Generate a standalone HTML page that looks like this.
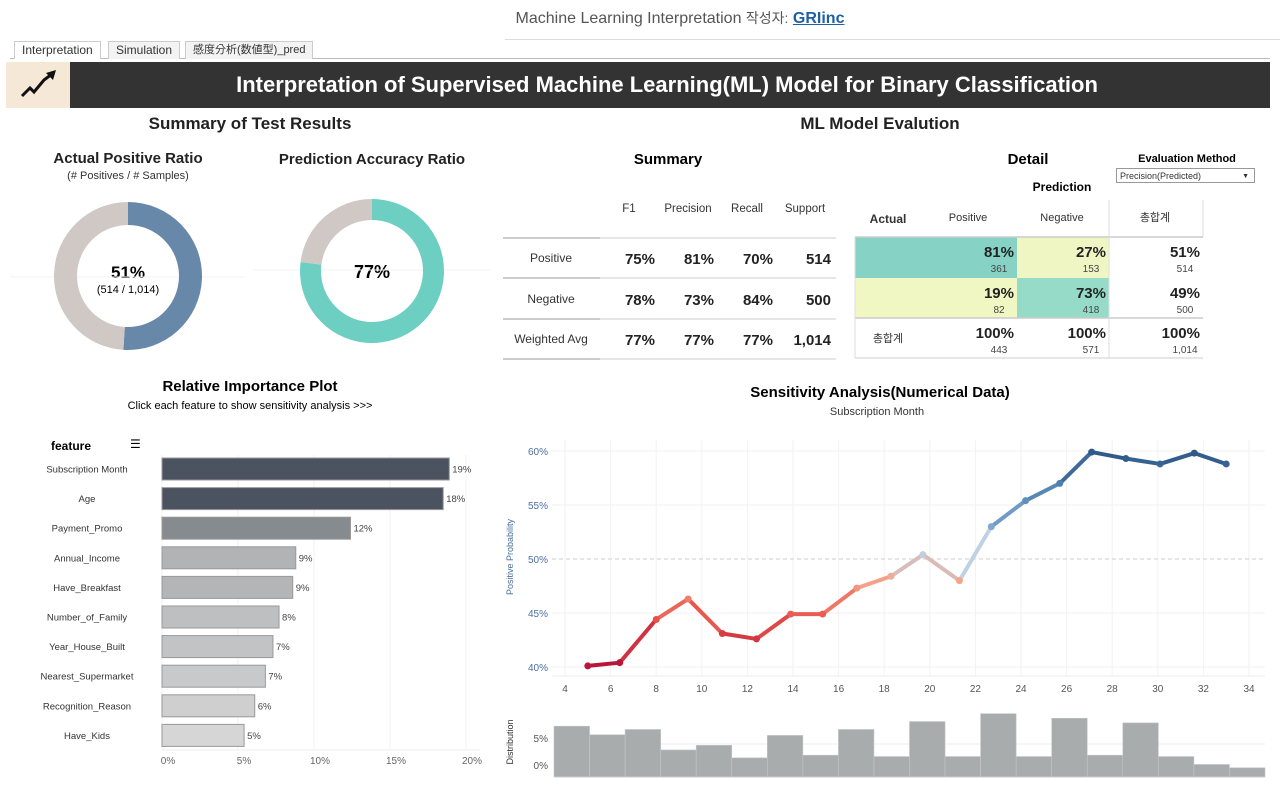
<!DOCTYPE html>
<html><head><meta charset="utf-8">
<style>
body{margin:0;width:1280px;height:788px;background:#fff;overflow:hidden;font-family:"Liberation Sans","Noto Sans CJK KR",sans-serif;position:relative}
.a{position:absolute;white-space:nowrap}
.c{transform:translateX(-50%)}
.r{transform:translateX(-100%)}
.b{font-weight:bold}
.tab{position:absolute;top:41px;height:17px;font-size:12px;line-height:17px;color:#333;border:1px solid #ccc;border-bottom:none;background:#f3f3f3;padding:0 7px}
svg{position:absolute;left:0;top:0}
</style></head><body>
<div class="a c" style="left:680px;top:8px;font-size:16px;color:#555">Machine Learning Interpretation <span style="font-size:14px">작성자:</span> <span style="color:#1f5fa6;text-decoration:underline;font-weight:bold">GRIinc</span></div>
<div class="a" style="left:505px;top:39px;width:775px;height:1px;background:#ddd"></div>
<div class="a" style="left:10px;top:58px;width:1260px;height:1px;background:#bbb"></div>
<div class="tab" style="left:14px;background:#fff">Interpretation</div>
<div class="tab" style="left:108px">Simulation</div>
<div class="tab" style="left:185px;font-size:11px">感度分析(数値型)_pred</div>
<div class="a" style="left:6px;top:62px;width:64px;height:46px;background:#f5e8d6">
<svg width="64" height="46"><polyline points="16,34 24,26 28,30 38,18 46,12" fill="none" stroke="#111" stroke-width="3"/><polygon points="50,8 40,11 47,18" fill="#111"/></svg></div>
<div class="a" style="left:70px;top:62px;width:1200px;height:46px;background:#333"></div>
<div class="a c b" style="left:667px;top:72px;font-size:22px;color:#fff">Interpretation of Supervised Machine Learning(ML) Model for Binary Classification</div>

<div class="a c b" style="left:250px;top:114px;font-size:17px;color:#222">Summary of Test Results</div>
<div class="a c b" style="left:880px;top:114px;font-size:17px;color:#222">ML Model Evalution</div>
<div class="a c b" style="left:128px;top:150px;font-size:15px;color:#222">Actual Positive Ratio</div>
<div class="a c" style="left:128px;top:170px;font-size:11px;color:#333">(# Positives / # Samples)</div>
<div class="a c b" style="left:372px;top:151px;font-size:15px;color:#222">Prediction Accuracy Ratio</div>
<div class="a c b" style="left:128px;top:263px;font-size:17px">51%</div>
<div class="a c" style="left:128px;top:284px;font-size:11px">(514 / 1,014)</div>
<div class="a c b" style="left:372px;top:262px;font-size:18px">77%</div>

<div class="a c b" style="left:668px;top:151px;font-size:15px">Summary</div>
<div class="a c b" style="left:1028px;top:151px;font-size:15px">Detail</div>
<div class="a c b" style="left:1187px;top:153px;font-size:11px">Evaluation Method</div>
<div class="a" style="left:1116px;top:168px;width:139px;height:15px;border:1px solid #999;font-size:9px;line-height:15px;color:#333;padding-left:3px;box-sizing:border-box">Precision(Predicted)<span style="position:absolute;right:5px;font-size:7px">▼</span></div>
<div class="a c b" style="left:1062px;top:180px;font-size:12px">Prediction</div>

<div class="a c b" style="left:250px;top:378px;font-size:15px">Relative Importance Plot</div>
<div class="a c" style="left:250px;top:400px;font-size:11px">Click each feature to show sensitivity analysis &gt;&gt;&gt;</div>
<div class="a b" style="left:51px;top:439px;font-size:12px">feature</div>
<div class="a" style="left:130px;top:437px;font-size:12px">☰</div>
<div class="a c b" style="left:880px;top:384px;font-size:15px">Sensitivity Analysis(Numerical Data)</div>
<div class="a c" style="left:877px;top:406px;font-size:11px;color:#333">Subscription Month</div>

<svg id="chart" width="1280" height="788"></svg>
<script>
// ===== data =====
const donutValues=[51,77];
const features=["Subscription Month","Age","Payment_Promo","Annual_Income","Have_Breakfast","Number_of_Family","Year_House_Built","Nearest_Supermarket","Recognition_Reason","Have_Kids"];
const importance=[18.9,18.5,12.4,8.8,8.6,7.7,7.3,6.8,6.1,5.4];
const importanceLabels=["19%","18%","12%","9%","9%","8%","7%","7%","6%","5%"];
const impTicks=[0,5,10,15,20];
const months=[5.0,6.4,8.0,9.4,10.9,12.4,13.9,15.3,16.8,18.3,19.7,21.3,22.7,24.2,25.7,27.1,28.6,30.1,31.6,33.0];
const probs=[40.1,40.4,44.4,46.3,43.1,42.6,44.9,44.9,47.3,48.4,50.4,48.0,53.0,55.4,57.0,59.9,59.3,58.8,59.8,58.8];
const xTicks=[4,6,8,10,12,14,16,18,20,22,24,26,28,30,32,34];
const yTicks=[40,45,50,55,60];
const distribution=[7.7,6.4,7.2,4.1,4.8,2.9,6.3,3.3,7.2,3.1,8.4,3.1,9.6,3.1,8.9,3.3,8.2,3.1,1.9,1.4];
const sumRows=["Positive","Negative","Weighted Avg"];
const sumCols=["F1","Precision","Recall","Support"];
const sumVals=[["75%","81%","70%","514"],["78%","73%","84%","500"],["77%","77%","77%","1,014"]];
const detRows=["Positive","Negative","총합계"];
const detCols=["Positive","Negative","총합계"];
const detPct=[["81%","27%","51%"],["19%","73%","49%"],["100%","100%","100%"]];
const detCnt=[["361","153","514"],["82","418","500"],["443","571","1,014"]];

const svg=document.getElementById('chart');const NS='http://www.w3.org/2000/svg';
function mk(t,a,p){const e=document.createElementNS(NS,t);for(const k in a)e.setAttribute(k,a[k]);(p||svg).appendChild(e);return e;}
function txt(x,y,s,a){const e=mk('text',Object.assign({x:x,y:y,'font-family':'Liberation Sans, sans-serif'},a));e.textContent=s;return e;}

function arc(cx,cy,R,r,a0,a1,fill,name){
 const p=(a,rr)=>[cx+rr*Math.sin(a),cy-rr*Math.cos(a)];
 const big=(a1-a0)>Math.PI?1:0;const [x1,y1]=p(a0,R),[x2,y2]=p(a1,R),[x3,y3]=p(a1,r),[x4,y4]=p(a0,r);
 const e=mk('path',{d:`M${x1},${y1}A${R},${R} 0 ${big} 1 ${x2},${y2}L${x3},${y3}A${r},${r} 0 ${big} 0 ${x4},${y4}Z`,fill:fill});
 
 
}
mk('line',{x1:10,y1:277,x2:245,y2:277,stroke:'#f3f3f3'});
mk('line',{x1:253,y1:270,x2:490,y2:270,stroke:'#f3f3f3'});
const dn=[{cx:128,cy:276,R:74,r:51,col:'#6888a9'},{cx:372,cy:271,R:72,r:51,col:'#6dcfc2'}];
donutValues.forEach((v,i)=>{const d=dn[i],a=v/100*2*Math.PI;
 arc(d.cx,d.cy,d.R,d.r,0,a,d.col,'donut-value-'+i);arc(d.cx,d.cy,d.R,d.r,a,2*Math.PI-0.0001,'#cfc8c4','donut-rest-'+i);});

const ix=v=>162+v*15.2;
impTicks.forEach(t=>{mk('line',{x1:ix(t),y1:455,x2:ix(t),y2:750,stroke:'#f0f0f0'});txt(ix(t)+6,764,t+'%',{'font-size':10,fill:'#666','text-anchor':'middle'});});
mk('line',{x1:162,y1:750,x2:480,y2:750,stroke:'#eee'});
const barCols=['#4b5360','#4b5360','#868b8f','#b1b3b4','#b3b5b6','#bebfc0','#c2c3c4','#c8c9ca','#cfcfd0','#d6d6d6'];
features.forEach((f,i)=>{const yc=469+i*29.6;
 const l=txt(87,yc+3.5,f,{'font-size':9.5,fill:'#333','text-anchor':'middle'});
 
 
 const b=mk('rect',{x:162,y:yc-11,width:ix(importance[i])-162,height:22,fill:barCols[i],stroke:'#999','stroke-width':1});
 
 
 txt(ix(importance[i])+3,yc+3.5,importanceLabels[i],{'font-size':9.5,fill:'#444'});});

const lx=v=>565+(v-4)*22.8, ly=v=>451+(60-v)*10.8;
xTicks.forEach(t=>{mk('line',{x1:lx(t),y1:440,x2:lx(t),y2:676,stroke:'#f2f2f2'});txt(lx(t),692,t,{'font-size':10,fill:'#555','text-anchor':'middle'});});
yTicks.forEach(t=>{mk('line',{x1:552,y1:ly(t),x2:1265,y2:ly(t),stroke:t==50?'#ddd':'#f2f2f2','stroke-dasharray':t==50?'4,3':'',"stroke-width":t==50?1.5:1});txt(548,ly(t)+4,t+'%',{'font-size':10,fill:'#4a6fa0','text-anchor':'end'});});
mk('line',{x1:552,y1:676,x2:1265,y2:676,stroke:'#eee'});
txt(0,0,'Positive Probability',{'font-size':9,fill:'#4a6fa0','text-anchor':'middle',transform:'translate(513,557) rotate(-90)'});
const stops=[[40.5,[184,22,58]],[44.5,[232,83,74]],[48,[246,165,140]],[50.5,[190,210,228]],[53,[125,168,208]],[57,[78,127,174]],[59.5,[48,90,137]]];
function col(v){if(v<=stops[0][0])return 'rgb('+stops[0][1]+')';for(let i=1;i<stops.length;i++){if(v<=stops[i][0]){const [a,ca]=stops[i-1],[b,cb]=stops[i],t=(v-a)/(b-a);return 'rgb('+ca.map((c,k)=>Math.round(c+(cb[k]-c)*t))+')';}}return 'rgb('+stops[stops.length-1][1]+')';}
for(let i=0;i<months.length-1;i++){const s=mk('line',{x1:lx(months[i]),y1:ly(probs[i]),x2:lx(months[i+1]),y2:ly(probs[i+1]),stroke:col((probs[i]+probs[i+1])/2),'stroke-width':4,'stroke-linecap':'round'});
 
 }
months.forEach((m,i)=>{const p=mk('circle',{cx:lx(m),cy:ly(probs[i]),r:3.5,fill:col(probs[i])});
 
 });

const dy=v=>777-v*6.6, bw=(1265-554)/distribution.length;
mk('line',{x1:554,y1:dy(5),x2:1265,y2:dy(5),stroke:'#eee'});
txt(548,742,'5%',{'font-size':10,fill:'#555','text-anchor':'end'});
txt(548,769,'0%',{'font-size':10,fill:'#555','text-anchor':'end'});
txt(0,0,'Distribution',{'font-size':9,fill:'#333','text-anchor':'middle',transform:'translate(513,742) rotate(-90)'});
distribution.forEach((v,i)=>{const r=mk('rect',{x:554+i*bw,y:dy(v),width:bw,height:777-dy(v),fill:'#a8acac',stroke:'#c4c7c7','stroke-width':0.6});
 
 });
mk('line',{x1:554,y1:777,x2:1265,y2:777,stroke:'#ccc'});

const colX=[655,714,773,831], rowY=[258,299,339], hdrX=[629,688,747,805];
sumCols.forEach((c,j)=>txt(hdrX[j],212,c,{'font-size':11.5,fill:'#333','text-anchor':'middle'}));
[238,278,319,359].forEach(y=>{mk('line',{x1:503,y1:y,x2:600,y2:y,stroke:'#ccc','stroke-width':2});mk('line',{x1:600,y1:y,x2:836,y2:y,stroke:'#e6e6e6','stroke-width':2});});
sumRows.forEach((r,i)=>{txt(551,rowY[i]+4,r,{'font-size':12,fill:'#333','text-anchor':'middle'});
 sumVals[i].forEach((v,j)=>txt(colX[j],rowY[i]+6,v,{'font-size':15,'font-weight':'bold',fill:'#222','text-anchor':'end'}));});

const cellX=[855,1017,1109,1203], cellY=[237,278,318,358], detHdrX=[968,1062,1155];
const fills=[['#86d3c6','#eff6c4',null],['#f1f7c3','#95dbc8',null]];
txt(888,223,'Actual',{'font-size':12,'font-weight':'bold',fill:'#333','text-anchor':'middle'});
detCols.forEach((c,j)=>txt(detHdrX[j],221,c,{'font-size':11,fill:'#333','text-anchor':'middle'}));
mk('line',{x1:1109,y1:200,x2:1109,y2:237,stroke:'#ddd'});mk('line',{x1:1203,y1:200,x2:1203,y2:237,stroke:'#ddd'});
detRows.forEach((r,i)=>{txt(888,(cellY[i]+cellY[i+1])/2+4,r,{'font-size':11,fill:'#333','text-anchor':'middle'});
 detPct[i].forEach((v,j)=>{if(fills[i]&&fills[i][j])mk('rect',{x:cellX[j],y:cellY[i],width:cellX[j+1]-cellX[j],height:cellY[i+1]-cellY[i],fill:fills[i][j]});
  txt(cellX[j+1]-3,cellY[i]+20,v,{'font-size':15,'font-weight':'bold',fill:'#222','text-anchor':'end'});
  txt(cellX[j+1]-18,cellY[i]+35,detCnt[i][j],{'font-size':10,fill:'#444','text-anchor':'middle'});});});
mk('line',{x1:855,y1:237,x2:1203,y2:237,stroke:'#ccc','stroke-width':1.5});
mk('line',{x1:855,y1:318,x2:1203,y2:318,stroke:'#ccc','stroke-width':1.5});
mk('line',{x1:855,y1:358,x2:1203,y2:358,stroke:'#ddd','stroke-width':1.5});
mk('line',{x1:1109,y1:237,x2:1109,y2:358,stroke:'#ddd'});
mk('line',{x1:855,y1:237,x2:855,y2:358,stroke:'#ddd'});
</script>
</body></html>
